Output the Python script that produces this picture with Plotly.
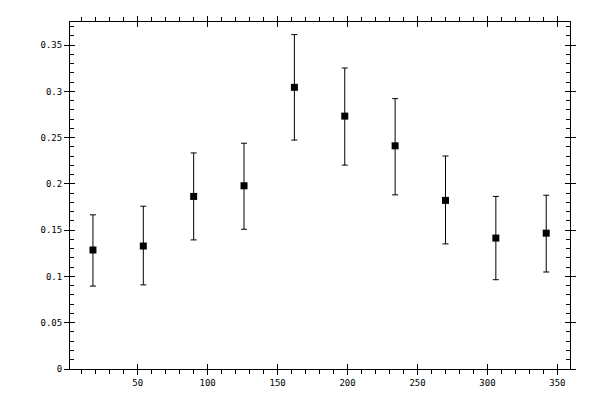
import plotly.graph_objects as go

# bin centres (deg) and measured fraction with asymmetric errors
angle = [18, 54, 90, 126, 162, 198, 234, 270, 306, 342]
frac = [0.1286, 0.1329, 0.1865, 0.198, 0.3044, 0.2733, 0.2412, 0.1822, 0.1415, 0.1468]
err_up = [0.038, 0.043, 0.047, 0.046, 0.057, 0.052, 0.051, 0.048, 0.045, 0.041]
err_dn = [0.039, 0.042, 0.047, 0.047, 0.057, 0.053, 0.053, 0.047, 0.045, 0.042]

tickfont = dict(family="DejaVu Sans Mono", size=9, color="black")

fig = go.Figure()
fig.add_trace(go.Scatter(
    x=angle, y=frac, mode="markers",
    marker=dict(symbol="square", size=7, color="black"),
    error_y=dict(type="data", symmetric=False, array=err_up, arrayminus=err_dn,
                 color="black", thickness=1, width=3),
    showlegend=False))
# invisible copy so the overlay axes (inner half of major ticks) get drawn
fig.add_trace(go.Scatter(x=angle, y=frac, xaxis="x2", yaxis="y2", mode="markers",
                         marker=dict(opacity=0), hoverinfo="skip", showlegend=False))

# page body adds 8px offset, so margins are shifted by that
fig.update_layout(
    width=600, height=400,
    margin=dict(l=62, r=38, t=8, b=39),
    plot_bgcolor="white", paper_bgcolor="white",
    xaxis=dict(range=[1.6, 359], tickvals=[50, 100, 150, 200, 250, 300, 350],
               ticks="outside", ticklen=5, tickwidth=1, tickcolor="black",
               minor=dict(dtick=10, tick0=0, ticks="outside", ticklen=4, tickcolor="black"),
               showline=True, linecolor="black", linewidth=1, mirror="allticks",
               showgrid=False, zeroline=False, tickfont=tickfont),
    yaxis=dict(range=[0, 0.375], tickvals=[0, 0.05, 0.1, 0.15, 0.2, 0.25, 0.3, 0.35],
               ticktext=["0", "0.05", "0.1", "0.15", "0.2", "0.25", "0.3", "0.35"],
               ticks="outside", ticklen=5, tickwidth=1, tickcolor="black",
               showline=True, linecolor="black", linewidth=1, mirror="allticks",
               showgrid=False, zeroline=False, tickfont=tickfont),
    xaxis2=dict(matches="x", overlaying="x", anchor="y2", side="bottom",
                tickvals=[50, 100, 150, 200, 250, 300, 350],
                ticks="inside", ticklen=5, tickcolor="black", mirror="allticks",
                showline=False, showgrid=False, zeroline=False, showticklabels=False),
    yaxis2=dict(matches="y", overlaying="y", anchor="x2", side="left",
                tickvals=[0, 0.05, 0.1, 0.15, 0.2, 0.25, 0.3, 0.35],
                ticks="inside", ticklen=5, tickcolor="black", mirror="allticks",
                minor=dict(dtick=0.01, tick0=0, ticks="inside", ticklen=4, tickcolor="black"),
                showline=False, showgrid=False, zeroline=False, showticklabels=False),
)

fig.write_html("out.html")
